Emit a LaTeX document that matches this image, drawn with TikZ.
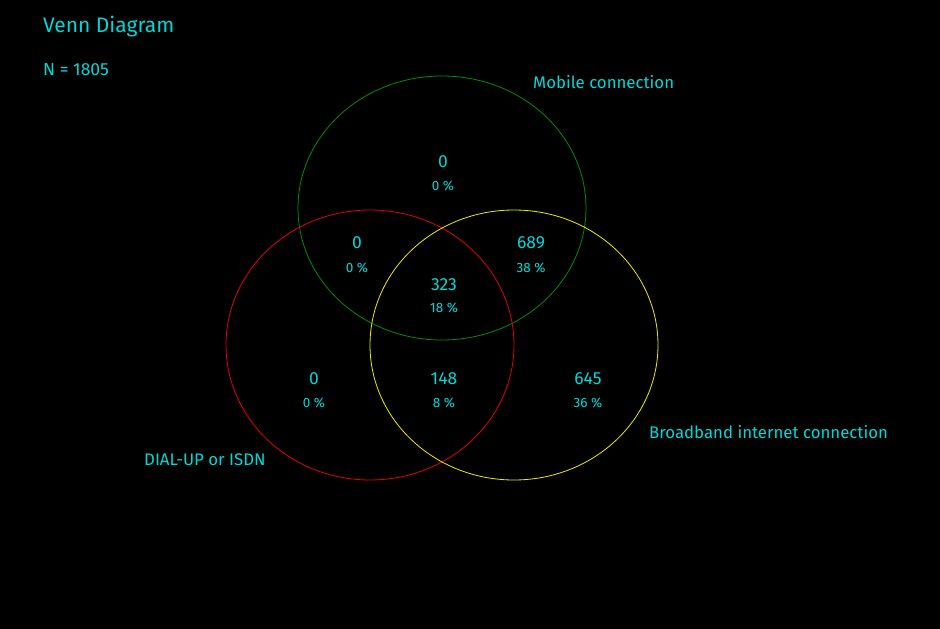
\documentclass[tikz,border=0pt]{standalone}
\usepackage{fontspec}
\setmainfont{Fira Sans}
\definecolor{txt}{RGB}{0,215,215}
\definecolor{cgreen}{RGB}{0,140,0}
\definecolor{cred}{RGB}{230,0,0}
\definecolor{cyel}{RGB}{235,235,0}
\begin{document}
\begin{tikzpicture}[x=1pt,y=-1pt,
  lbl/.style={text=txt,font=\fontsize{16.8}{19}\selectfont,inner sep=0pt},
  num/.style={text=txt,font=\fontsize{17.5}{20}\selectfont,inner sep=0pt},
  pct/.style={text=txt,font=\fontsize{13.5}{16}\selectfont,inner sep=0pt},
  ring/.style={line width=0.8pt}]
\fill[black] (0,0) rectangle (940,629);
\useasboundingbox (0,0) rectangle (940,629);
\draw[ring,cgreen] (442,208) ellipse [x radius=144, y radius=132];
\draw[ring,cred] (370,345) ellipse [x radius=144, y radius=135];
\draw[ring,cyel] (514,345) ellipse [x radius=144, y radius=135];
\node[lbl,anchor=west,font=\fontsize{21}{24}\selectfont] (title) at (43,27) {Venn Diagram};
\node[lbl,anchor=west,font=\fontsize{17.5}{20}\selectfont] (n) at (43,70) {N = 1805};
\node[lbl,anchor=west] (mob) at (533,82) {Mobile connection};
\node[lbl,anchor=west] (bb) at (649,432) {Broadband internet connection};
\node[lbl,anchor=west] (dial) at (144,460) {DIAL-UP or ISDN};
\node[num] (m) at (443,162) {0};
\node[pct] (mp) at (443,186) {0 \%};
\node[num] (dm) at (357,243) {0};
\node[pct] (dmp) at (357,268) {0 \%};
\node[num] (mb) at (531,243) {689};
\node[pct] (mbp) at (531,268) {38 \%};
\node[num] (all) at (444,285) {323};
\node[pct] (allp) at (444,308) {18 \%};
\node[num] (d) at (314,379) {0};
\node[pct] (dp) at (314,403) {0 \%};
\node[num] (db) at (444,379) {148};
\node[pct] (dbp) at (444,403) {8 \%};
\node[num] (b) at (588,379) {645};
\node[pct] (bp) at (588,403) {36 \%};
\end{tikzpicture}
\end{document}
